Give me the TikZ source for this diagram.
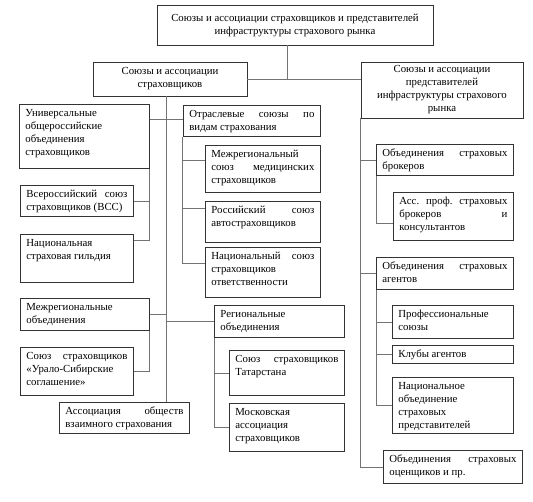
\documentclass[tikz,border=0pt]{standalone}
\usepackage{fontspec}
\setmainfont{Liberation Serif}
\usetikzlibrary{calc}
\setlength\parindent{0pt}
\tikzset{
  box/.style={draw=black!80, line width=0.8pt, inner xsep=6pt, inner ysep=0pt,
    font=\fontsize{10.8}{13}\selectfont, text=black},
  cbox/.style={box, align=center},
  conn/.style={draw=black!55, line width=0.7pt}
}
\newcommand\bx[6]{%
  \pgfmathsetmacro\bw{#4-#2-12}\pgfmathsetmacro\bh{#5-#3}%
  \node[box, anchor=north west] (#1) at (#2,#3)
    {\parbox[t][\bh pt][t]{\bw pt}{\hyphenpenalty=10000\rule{0pt}{12.5pt}#6}};}
\begin{document}
\begin{tikzpicture}[x=1pt,y=-1pt]
\useasboundingbox (0,0) rectangle (533,502);
% centred headers
\node[cbox, minimum width=276pt, minimum height=40pt] (Top) at (295,25)
  {Союзы и ассоциации страховщиков и представителей\\ инфраструктуры страхового рынка};
\node[cbox, minimum width=154pt, minimum height=34pt] (L1) at (170,79)
  {Союзы и ассоциации\\ страховщиков};
\node[cbox, minimum width=162pt, minimum height=56pt] (R1) at (442,90)
  {Союзы и ассоциации\\ представителей\\ инфраструктуры страхового\\ рынка};
% left column
\bx{U}{19}{104}{149}{168}{Универсальные\\ общероссийские\\ объединения\\ страховщиков}
\bx{VSS}{20}{185}{133}{216}{Всероссийский\hfill союз\\ страховщиков (ВСС)}
\bx{NG}{20}{234}{133}{282}{Национальная\\ страховая гильдия}
\bx{MO}{20}{298}{149}{330}{Межрегиональные\\ объединения}
\bx{UR}{20}{347}{133}{395}{Союз\hfill страховщиков\\ «Урало-Сибирские\\ соглашение»}
\bx{AO}{59}{402}{189}{433}{Ассоциация\hfill обществ\\ взаимного страхования}
% middle column
\bx{OS}{183}{105}{320}{136}{Отраслевые\hfill союзы\hfill по\\ видам страхования}
\bx{MS}{205}{145}{320}{192}{Межрегиональный\\ союз\hfill медицинских\\ страховщиков}
\bx{RS}{205}{201}{320}{242}{Российский\hfill союз\\ автостраховщиков}
\bx{NS}{205}{247}{320}{297}{Национальный\hfill союз\\ страховщиков\\ ответственности}
\bx{RO}{214}{305}{344}{337}{Региональные\\ объединения}
\bx{ST}{229}{350}{344}{395}{Союз\hfill страховщиков\\ Татарстана}
\bx{MA}{229}{403}{344}{451}{Московская\\ ассоциация\\ страховщиков}
% right column
\bx{OB}{376}{144}{513}{175}{Объединения\hfill страховых\\ брокеров}
\bx{AP}{393}{192}{513}{240}{Асс.\hfill проф.\hfill страховых\\ брокеров\hfill и\\ консультантов}
\bx{OA}{376}{257}{513}{289}{Объединения\hfill страховых\\ агентов}
\bx{PS}{392}{305}{513}{338}{Профессиональные\\ союзы}
\bx{KA}{392}{345}{513}{363}{Клубы агентов}
\bx{NO}{392}{377}{513}{433}{Национальное\\ объединение\\ страховых\\ представителей}
\bx{OO}{383}{450}{522}{483}{Объединения\hfill страховых\\ оценщиков и пр.}
% junction coordinates
\coordinate (j0) at (287,79);
\coordinate (tL) at (166,96);
\coordinate (h1) at (166,119);
\coordinate (ngt) at ($(NG.north east)+(0,6)$);
\coordinate (mst) at ($(MS.north west)+(0,15)$);
\coordinate (rst) at ($(RS.north west)+(0,7)$);
\coordinate (nst) at ($(NS.north west)+(0,16)$);
\coordinate (apt) at ($(AP.north west)+(0,31)$);
% connectors
\draw[conn] (Top.south -| j0) -- (j0);
\draw[conn] (L1.east) -- (L1.east -| R1.west);
\draw[conn] (tL) -- (AO.north -| tL);
\draw[conn] (U.east |- h1) -- (OS.west |- h1);
\draw[conn] (U.south east) -- (U.south east |- ngt) -- (ngt);
\draw[conn] (VSS.east) -- (VSS.east -| U.south east);
\draw[conn] (MO.east) -- (MO.east -| tL);
\draw[conn] (MO.south east) |- (UR.east);
\draw[conn] (RO.west -| tL) -- (RO.west);
\draw[conn] ([xshift=-1pt]OS.south west) |- (nst);
\draw[conn] (mst -| OS.south west) ++(-1,0) -- (mst);
\draw[conn] (rst -| OS.south west) ++(-1,0) -- (rst);
\draw[conn] (RO.south west) |- (MA.west);
\draw[conn] (ST.west -| RO.south west) -- (ST.west);
\draw[conn] (R1.south west) |- (OO.west);
\draw[conn] (OB.west -| R1.south west) -- (OB.west);
\draw[conn] (OA.west -| R1.south west) -- (OA.west);
\draw[conn] (OB.south west) |- (apt);
\draw[conn] (OA.south west) |- (NO.west);
\draw[conn] (PS.west -| OA.south west) -- (PS.west);
\draw[conn] (KA.west -| OA.south west) -- (KA.west);
\end{tikzpicture}
\end{document}
